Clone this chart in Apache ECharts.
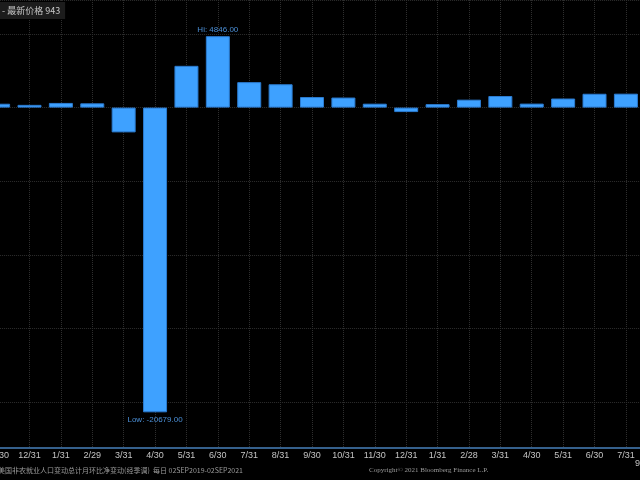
<!DOCTYPE html>
<html>
<head>
<meta charset="utf-8">
<script src="https://cdn.jsdelivr.net/npm/echarts@6/dist/echarts.min.js"></script>
<style>
html,body{margin:0;padding:0;background:#000;}
#c{width:640px;height:480px;}
</style>
</head>
<body>
<div id="c"></div>
<script>
var categories = ['11/30','12/31','1/31','2/29','3/31','4/30','5/31','6/30','7/31','8/31','9/30','10/31','11/30','12/31','1/31','2/28','3/31','4/30','5/31','6/30','7/31','8/31'];
var values = [261,184,315,289,-1683,-20679,2833,4846,1726,1583,716,680,264,-306,233,536,785,269,614,938,943,null];
var legendText = '- 最新价格 943';
var footerLeft = '美国非农就业人口变动总计月环比净变动(经季调)  每日 02SEP2019-02SEP2021';
var footerRight = 'Copyright© 2021 Bloomberg Finance L.P.';
var cornerText = '9';

var valid = values.filter(function(v){return v !== null;});
var maxV = Math.max.apply(null, valid), minV = Math.min.apply(null, valid);
var iMax = values.indexOf(maxV), iMin = values.indexOf(minV);

var data = values.map(function(v, i){
  if (i === iMax) return {value: v, label: {show: true, position: 'top', distance: 2, formatter: 'Hi: ' + v.toFixed(2)}};
  if (i === iMin) return {value: v, label: {show: true, position: 'bottom', distance: 3, formatter: 'Low: ' + v.toFixed(2)}};
  return v;
});

var chart = echarts.init(document.getElementById('c'), null, {renderer: 'canvas'});
var gridStyle = {color: '#2e2e2e', type: 'dotted', width: 1};
chart.setOption({
  backgroundColor: '#000000',
  animation: false,
  title: [
    {text: legendText, left: 0, top: 2, padding: [4, 5, 4, 2], backgroundColor: '#1c1c1c',
     textStyle: {color: '#c8c8c8', fontSize: 9, fontWeight: 'normal', fontFamily: 'Noto Sans CJK SC'}},
    {text: footerLeft, right: 397, top: 467, padding: 0,
     textStyle: {color: '#9a9a9a', fontSize: 7, fontWeight: 'normal', fontFamily: 'Noto Sans CJK SC'}},
    {text: footerRight, left: 369, top: 467, padding: 0,
     textStyle: {color: '#9a9a9a', fontSize: 7, fontWeight: 'normal', fontFamily: 'Liberation Serif'}},
    {text: cornerText, left: 635, top: 459, padding: 0,
     textStyle: {color: '#c4c4c4', fontSize: 9, fontWeight: 'normal', fontFamily: 'Liberation Sans'}}
  ],
  grid: {left: -1.9, right: -17.3, top: 0, bottom: 32, containLabel: false, outerBoundsMode: 'none'},
  xAxis: {
    type: 'category',
    data: categories,
    boundaryGap: false,
    axisLine: {onZero: false, lineStyle: {color: '#35608c', width: 2}},
    axisTick: {show: false},
    axisLabel: {color: '#c4c4c4', fontSize: 9, margin: 3, fontFamily: 'Liberation Sans', interval: 0},
    splitLine: {show: true, lineStyle: gridStyle}
  },
  yAxis: {
    type: 'value',
    min: -23100,
    max: 7300,
    splitNumber: 6,
    axisLine: {show: false},
    axisTick: {show: false},
    axisLabel: {show: false},
    splitLine: {show: true, lineStyle: gridStyle}
  },
  series: [{
    type: 'bar',
    data: data,
    barWidth: 24,
    itemStyle: {color: '#3ea1ff', borderColor: '#2b7bd0', borderWidth: 1},
    label: {show: false, color: '#4b8fd6', fontSize: 8, fontFamily: 'Liberation Sans'}
  }]
});
</script>
</body>
</html>
